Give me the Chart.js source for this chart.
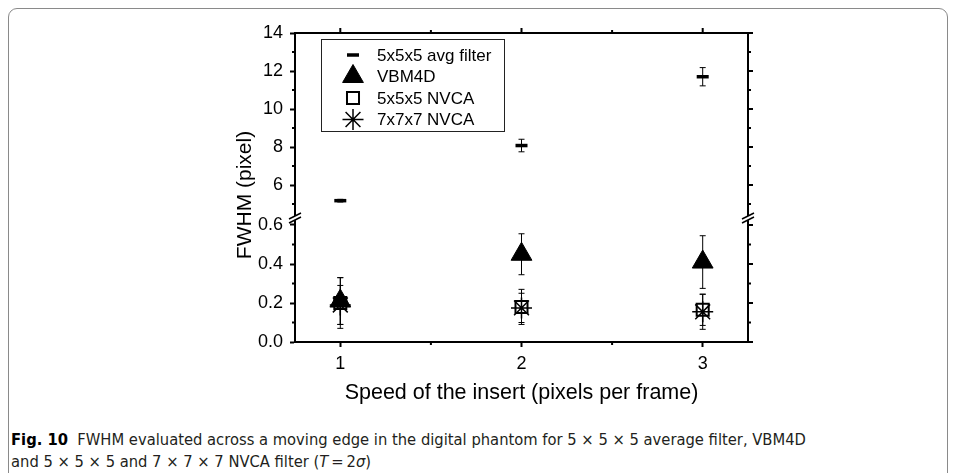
<!DOCTYPE html>
<html>
<head>
<meta charset="utf-8">
<script src="https://cdn.jsdelivr.net/npm/chart.js@4.4.1/dist/chart.umd.min.js"></script>
<style>
  html, body { margin: 0; padding: 0; background: #fff; overflow: hidden; }
  .frame { position: absolute; left: 8px; top: 8px; width: 938px; height: 500px;
           border: 1px solid #8a8a8a; border-radius: 9px; }
  .wrap { position: absolute; left: 0; top: 0; width: 955px; height: 410px; }
  .caption { position: absolute; left: 11px; top: 429px; width: 930px;
             font-family: "Liberation Sans Narrow", "DejaVu Sans Condensed", "Liberation Sans", sans-serif;
             font-size: 16.4px; line-height: 22px; color: #231f20; }
  .caption b { color: #000; }
</style>
</head>
<body>
<div class="frame"></div>
<div class="wrap"><canvas id="chart"></canvas></div>
<div class="caption"><b>Fig. 10</b>&nbsp; FWHM evaluated across a moving edge in the digital phantom for 5 × 5 × 5 average filter, VBM4D<br>and 5 × 5 × 5 and 7 × 7 × 7 NVCA filter (<i>T</i>&thinsp;=&thinsp;2<i>σ</i>)</div>
<script>
// data
var speeds = [1, 2, 3];
var avgFilter = [5.18, 8.08, 11.7];
var avgFilterErr = [0.07, 0.33, 0.48];
var vbm4d = [0.21, 0.45, 0.41];
var vbm4dErr = [0.12, 0.105, 0.135];
var nvca5 = [0.20, 0.18, 0.165];
var nvca5Err = [0.13, 0.09, 0.08];
var nvca7 = [0.19, 0.175, 0.155];
var nvca7Err = [0.10, 0.075, 0.09];

// axis ticks (broken y axis: low part 0-0.6, high part 6-14)
var xTicks = [1, 2, 3];
var xMinor = [1.5, 2.5];
var yLowTicks = [0, 0.2, 0.4, 0.6];
var yLowMinor = [0.1, 0.3, 0.5];
var yHighTicks = [6, 8, 10, 12, 14];
var yHighMinor = [5, 7, 9, 11, 13];

var xTitle = 'Speed of the insert (pixels per frame)';
var yTitle = 'FWHM (pixel)';

var FONT = "'Liberation Sans', Arial, sans-serif";
Chart.defaults.font.family = FONT;
Chart.defaults.color = '#000';

function toPoints(vals) {
  return vals.map(function(v, i) { return {x: speeds[i], y: v}; });
}
function fixTicks(list) {
  return function(scale) { scale.ticks = list.map(function(v) { return {value: v}; }); };
}

// error bars, drawn under the markers
var errorBars = {
  id: 'errorBars',
  beforeDatasetsDraw: function(chart) {
    var ctx = chart.ctx;
    ctx.save();
    ctx.strokeStyle = '#000';
    ctx.lineWidth = 1;
    chart.data.datasets.forEach(function(ds) {
      var ys = chart.scales[ds.yAxisID];
      var xs = chart.scales.x;
      ds.data.forEach(function(p, i) {
        var e = ds.errors[i];
        var px = xs.getPixelForValue(p.x);
        var top = ys.getPixelForValue(p.y + e);
        var bot = ys.getPixelForValue(p.y - e);
        ctx.beginPath();
        ctx.moveTo(px, top); ctx.lineTo(px, bot);
        ctx.moveTo(px - 3, top); ctx.lineTo(px + 3, top);
        ctx.moveTo(px - 3, bot); ctx.lineTo(px + 3, bot);
        ctx.stroke();
      });
    });
    ctx.restore();
  }
};

// top/right border, minor ticks, axis breaks, y title and the boxed legend
var frame = {
  id: 'frame',
  afterDraw: function(chart) {
    var ctx = chart.ctx, a = chart.chartArea;
    var x = chart.scales.x, lo = chart.scales.yLow, hi = chart.scales.yHigh;
    var yb = lo.top - 6;
    ctx.save();
    ctx.strokeStyle = '#000';
    ctx.fillStyle = '#000';

    ctx.lineWidth = 2;
    ctx.beginPath();
    ctx.moveTo(a.left - 1, a.top); ctx.lineTo(a.right + 1, a.top);
    ctx.moveTo(a.right, a.top); ctx.lineTo(a.right, a.bottom + 1);
    ctx.stroke();

    // major ticks on top and right, minor ticks everywhere (outside)
    ctx.beginPath();
    xTicks.forEach(function(v) { var p = x.getPixelForValue(v); ctx.moveTo(p, a.top); ctx.lineTo(p, a.top - 5); });
    xMinor.forEach(function(v) {
      var p = x.getPixelForValue(v);
      ctx.moveTo(p, a.top); ctx.lineTo(p, a.top - 3);
      ctx.moveTo(p, a.bottom); ctx.lineTo(p, a.bottom + 3);
    });
    yLowTicks.forEach(function(v) { var p = lo.getPixelForValue(v); ctx.moveTo(a.right, p); ctx.lineTo(a.right + 5, p); });
    yHighTicks.forEach(function(v) { var p = hi.getPixelForValue(v); ctx.moveTo(a.right, p); ctx.lineTo(a.right + 5, p); });
    yLowMinor.forEach(function(v) {
      var p = lo.getPixelForValue(v);
      ctx.moveTo(a.left, p); ctx.lineTo(a.left - 3, p);
      ctx.moveTo(a.right, p); ctx.lineTo(a.right + 3, p);
    });
    yHighMinor.forEach(function(v) {
      var p = hi.getPixelForValue(v);
      ctx.moveTo(a.left, p); ctx.lineTo(a.left - 3, p);
      ctx.moveTo(a.right, p); ctx.lineTo(a.right + 3, p);
    });
    ctx.stroke();

    // "//" break marks on both vertical axes
    [a.left, a.right].forEach(function(bx) {
      ctx.fillStyle = '#fff';
      ctx.beginPath();
      ctx.moveTo(bx - 6, yb); ctx.lineTo(bx + 6, yb - 6);
      ctx.lineTo(bx + 6, yb - 2); ctx.lineTo(bx - 6, yb + 4);
      ctx.closePath();
      ctx.fill();
      ctx.lineWidth = 1.5;
      ctx.beginPath();
      ctx.moveTo(bx - 6, yb); ctx.lineTo(bx + 6, yb - 6);
      ctx.moveTo(bx - 6, yb + 4); ctx.lineTo(bx + 6, yb - 2);
      ctx.stroke();
    });

    // y title
    ctx.fillStyle = '#000';
    ctx.font = '21px ' + FONT;
    ctx.textAlign = 'center';
    ctx.textBaseline = 'middle';
    ctx.translate(a.left - 50, 195);
    ctx.rotate(-Math.PI / 2);
    ctx.fillText(yTitle, 0, 0);
    ctx.restore();

    // legend box
    var lx = a.left + 26, ly = a.top + 6;
    ctx.save();
    ctx.fillStyle = '#fff';
    ctx.fillRect(lx, ly, 183, 92);
    ctx.strokeStyle = '#222';
    ctx.lineWidth = 1;
    ctx.strokeRect(lx + 0.5, ly + 0.5, 183, 92);
    ctx.font = '17px ' + FONT;
    ctx.textAlign = 'left';
    ctx.textBaseline = 'middle';
    chart.data.datasets.forEach(function(ds, i) {
      var ry = ly + 16 + i * 21.5;
      ctx.fillStyle = ds.legendFill;
      ctx.strokeStyle = '#000';
      ctx.lineWidth = ds.pointBorderWidth;
      Chart.helpers.drawPoint(ctx, {pointStyle: ds.pointStyle, radius: ds.pointRadius,
        borderWidth: ds.pointBorderWidth, rotation: 0}, lx + 32, ry);
      ctx.fillStyle = '#000';
      ctx.fillText(ds.label, lx + 56, ry + 1);
    });
    ctx.restore();
  }
};

var yCommon = {
  type: 'linear',
  position: 'left',
  stack: 'left',
  grid: {drawOnChartArea: false, tickLength: 5, tickWidth: 2, tickColor: '#000'},
  border: {width: 2, color: '#000'},
  afterFit: function(s) { s.width = 295; }
};

new Chart(document.getElementById('chart'), {
  type: 'scatter',
  data: {
    datasets: [
      {label: '5x5x5 avg filter', data: toPoints(avgFilter), errors: avgFilterErr, yAxisID: 'yHigh',
       pointStyle: 'line', pointRadius: 6, pointBorderWidth: 3.5,
       pointBorderColor: '#000', pointBackgroundColor: '#000', legendFill: '#000'},
      {label: 'VBM4D', data: toPoints(vbm4d), errors: vbm4dErr, yAxisID: 'yLow',
       pointStyle: 'triangle', pointRadius: 12, pointBorderWidth: 1,
       pointBorderColor: '#000', pointBackgroundColor: '#000', legendFill: '#000'},
      {label: '5x5x5 NVCA', data: toPoints(nvca5), errors: nvca5Err, yAxisID: 'yLow',
       pointStyle: 'rect', pointRadius: 8.5, pointBorderWidth: 2,
       pointBorderColor: '#000', pointBackgroundColor: 'rgba(0,0,0,0)', legendFill: '#fff'},
      {label: '7x7x7 NVCA', data: toPoints(nvca7), errors: nvca7Err, yAxisID: 'yLow',
       pointStyle: 'star', pointRadius: 10.5, pointBorderWidth: 1.5,
       pointBorderColor: '#000', pointBackgroundColor: '#000', legendFill: '#000'}
    ]
  },
  options: {
    responsive: true,
    maintainAspectRatio: false,
    animation: false,
    layout: {padding: {top: 33, right: 207, left: 0, bottom: 0}},
    plugins: {legend: {display: false}, tooltip: {enabled: false}},
    scales: {
      x: {
        type: 'linear', min: 0.75, max: 3.25,
        afterBuildTicks: fixTicks(xTicks),
        ticks: {font: {size: 18}, padding: 6, color: '#000', autoSkip: false},
        grid: {drawOnChartArea: false, tickLength: 5, tickWidth: 2, tickColor: '#000'},
        border: {width: 2, color: '#000'},
        title: {display: true, text: xTitle, font: {size: 21.5}, color: '#000', padding: {top: 0, bottom: 4}},
        afterFit: function(s) { s.height = 68; }
      },
      yLow: Object.assign({}, yCommon, {
        min: 0, max: 0.6, stackWeight: 117,
        afterBuildTicks: fixTicks(yLowTicks),
        ticks: {font: {size: 18}, padding: 7, color: '#000', autoSkip: false,
                callback: function(v) { return v.toFixed(1); }}
      }),
      yHigh: Object.assign({}, yCommon, {
        min: 3.9, max: 14, stackWeight: 192,
        afterBuildTicks: fixTicks(yHighTicks),
        ticks: {font: {size: 18}, padding: 7, color: '#000', autoSkip: false}
      })
    }
  },
  plugins: [errorBars, frame]
});
</script>
</body>
</html>
